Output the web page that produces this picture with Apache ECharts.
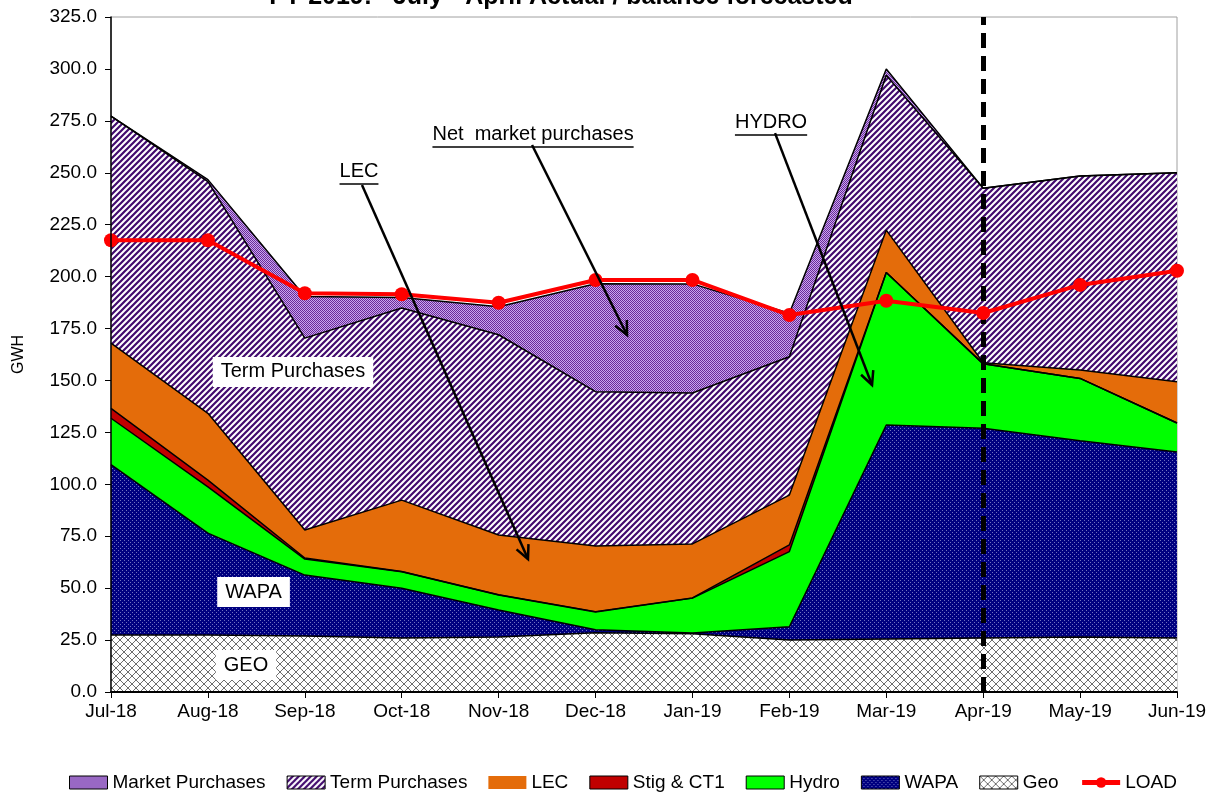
<!DOCTYPE html>
<html>
<head>
<meta charset="utf-8">
<script src="https://cdn.jsdelivr.net/npm/echarts@6/dist/echarts.min.js"></script>
<style>
  html, body { margin: 0; padding: 0; background: #fff; }
  #main { width: 1214px; height: 794px; }
</style>
</head>
<body>
<div id="main"></div>
<script>
// months on the x axis
var months = ['Jul-18', 'Aug-18', 'Sep-18', 'Oct-18', 'Nov-18', 'Dec-18',
  'Jan-19', 'Feb-19', 'Mar-19', 'Apr-19', 'May-19', 'Jun-19'];

// stacked resources, GWH (bottom to top)
var geo    = [27.5, 27.5, 27, 26, 26.5, 28.5, 28, 25, 25.5, 26, 26.5, 26];
var wapa   = [82, 49, 29.3, 24, 13, 1.5, 0.4, 6.4, 103, 101, 94.5, 89.5];
var hydro  = [22.3, 22.3, 7.7, 7.9, 7.2, 8.5, 16.8, 36.2, 73.5, 31, 30, 14];
var stig   = [4.8, 3.2, 0.5, 0.1, 0.1, 0.2, 0.1, 3.2, 0, 0, 0, 0];
var lec    = [31.4, 32.2, 13.5, 34.4, 28.8, 31.6, 26, 24, 20.4, 0.5, 4, 19.9];
var term   = [109.3, 111.5, 92.4, 92.5, 96.4, 74.3, 72.7, 66.6, 74.6, 84.1, 93.4, 100.6];
var market = [0, 1, 20, 5, 13.5, 52, 52.5, 21, 3, 0, 0, 0];

// load line
var load = [217.5, 217.5, 192, 191.5, 187.4, 198.4, 198.4, 181.5, 188.4, 182.5, 196, 202.8];

// annotations, placed in data space [category index, value]
var notes = [
  { text: 'Term Purchases', at: [1.878, 154.1], box: true },
  { text: 'WAPA', at: [1.471, 48.1], box: true },
  { text: 'GEO', at: [1.393, 13.0], box: true },
  { text: 'Net  market purchases', at: [4.355, 268.2], under: true },
  { text: 'LEC', at: [2.559, 250.4], under: true },
  { text: 'HYDRO', at: [6.811, 274.0], under: true }
];
var arrows = [
  { from: [2.590, 244.1], to: [4.303, 64.0] },
  { from: [4.345, 263.4], to: [5.325, 171.9] },
  { from: [6.852, 269.1], to: [7.853, 147.8] }
];

// fill patterns
function tile(size, draw) {
  var c = document.createElement('canvas');
  c.width = size; c.height = size;
  var ctx = c.getContext('2d');
  draw(ctx, size);
  return { image: c, repeat: 'repeat' };
}

var termPat = tile(6, function (ctx, s) {
  ctx.fillStyle = '#fff'; ctx.fillRect(0, 0, s, s);
  ctx.strokeStyle = '#420a6e'; ctx.lineWidth = 2.2;
  ctx.beginPath();
  ctx.moveTo(0, s); ctx.lineTo(s, 0);
  ctx.moveTo(-s / 2, s / 2); ctx.lineTo(s / 2, -s / 2);
  ctx.moveTo(s / 2, s * 1.5); ctx.lineTo(s * 1.5, s / 2);
  ctx.stroke();
});

var marketPat = tile(2, function (ctx) {
  ctx.fillStyle = '#c9a6ee'; ctx.fillRect(0, 0, 2, 2);
  ctx.fillStyle = '#6a2a9a'; ctx.fillRect(0, 0, 1, 1); ctx.fillRect(1, 1, 1, 1);
});

var wapaPat = tile(4, function (ctx) {
  ctx.fillStyle = '#000080'; ctx.fillRect(0, 0, 4, 4);
  ctx.fillStyle = '#7070c0'; ctx.fillRect(0, 0, 1, 1); ctx.fillRect(2, 2, 1, 1);
});

var geoPat = tile(8, function (ctx, s) {
  ctx.fillStyle = '#fff'; ctx.fillRect(0, 0, s, s);
  ctx.strokeStyle = '#6e6e6e'; ctx.lineWidth = 1;
  ctx.beginPath();
  ctx.moveTo(0, s); ctx.lineTo(s, 0);
  ctx.moveTo(-s / 2, s / 2); ctx.lineTo(s / 2, -s / 2);
  ctx.moveTo(s / 2, s * 1.5); ctx.lineTo(s * 1.5, s / 2);
  ctx.moveTo(0, 0); ctx.lineTo(s, s);
  ctx.moveTo(-s / 2, s / 2); ctx.lineTo(s / 2, s * 1.5);
  ctx.moveTo(s / 2, -s / 2); ctx.lineTo(s * 1.5, s / 2);
  ctx.stroke();
});

var LEC_C = '#e46c0a', STIG_C = '#c00000', HYDRO_C = '#00ff00';

function areaSeries(name, data, fill) {
  return {
    name: name,
    type: 'line',
    stack: 'supply',
    data: data,
    showSymbol: false,
    symbol: 'none',
    lineStyle: { color: '#000', width: 1.5 },
    itemStyle: { color: fill },
    areaStyle: { color: fill, opacity: 1 },
    emphasis: { disabled: true }
  };
}

var font = 'Liberation Sans, Arial, sans-serif';
var chart = echarts.init(document.getElementById('main'));

var option = {
  animation: false,
  textStyle: { fontFamily: font },
  title: {
    text: 'FY 2019:   July - April Actual / balance forecasted',
    left: 556,
    textAlign: 'center',
    top: -20,
    textStyle: { fontSize: 25, fontWeight: 'bold', color: '#000', fontFamily: font }
  },
  grid: {
    left: 111, right: 37, top: 17, bottom: 102,
    show: true, borderColor: '#a0a0a0', borderWidth: 1
  },
  legend: {
    top: 768,
    left: 64,
    itemWidth: 38,
    itemHeight: 13,
    itemGap: 21,
    selectedMode: false,
    textStyle: { fontSize: 19, color: '#000', fontFamily: font },
    data: [
      { name: 'Market Purchases', icon: 'rect', itemStyle: { color: marketPat, borderColor: '#000', borderWidth: 1 } },
      { name: 'Term Purchases', icon: 'rect', itemStyle: { color: termPat, borderColor: '#000', borderWidth: 1 } },
      { name: 'LEC', icon: 'rect', itemStyle: { color: LEC_C, borderWidth: 0 } },
      { name: 'Stig & CT1', icon: 'rect', itemStyle: { color: STIG_C, borderColor: '#000', borderWidth: 1 } },
      { name: 'Hydro', icon: 'rect', itemStyle: { color: HYDRO_C, borderColor: '#000', borderWidth: 1 } },
      { name: 'WAPA', icon: 'rect', itemStyle: { color: wapaPat, borderColor: '#000', borderWidth: 1 } },
      { name: 'Geo', icon: 'rect', itemStyle: { color: geoPat, borderColor: '#000', borderWidth: 1 } },
      { name: 'LOAD', lineStyle: { width: 5, color: '#ff0000' } }
    ]
  },
  xAxis: {
    type: 'category',
    data: months,
    boundaryGap: false,
    axisLine: { lineStyle: { color: '#000', width: 2 } },
    axisTick: { show: true, length: 6, lineStyle: { color: '#000' } },
    axisLabel: { color: '#000', fontSize: 19, margin: 10, interval: 0 },
    splitLine: { show: false },
    z: 10
  },
  yAxis: {
    type: 'value',
    min: 0, max: 325, interval: 25,
    name: 'GWH',
    nameLocation: 'middle',
    nameGap: 84,
    nameTextStyle: { color: '#000', fontSize: 16 },
    axisLine: { show: true, lineStyle: { color: '#000', width: 1.5 } },
    axisTick: { show: true, length: 6, lineStyle: { color: '#000' } },
    axisLabel: { color: '#000', fontSize: 19, margin: 14, formatter: function (v) { return v.toFixed(1); } },
    splitLine: { show: false },
    z: 10
  },
  series: [
    areaSeries('Geo', geo, geoPat),
    areaSeries('WAPA', wapa, wapaPat),
    areaSeries('Hydro', hydro, HYDRO_C),
    areaSeries('Stig & CT1', stig, STIG_C),
    areaSeries('LEC', lec, LEC_C),
    areaSeries('Term Purchases', term, termPat),
    areaSeries('Market Purchases', market, marketPat),
    {
      name: 'LOAD',
      type: 'line',
      data: load,
      symbol: 'circle',
      symbolSize: 14,
      z: 6,
      lineStyle: { color: '#ff0000', width: 4 },
      itemStyle: { color: '#ff0000' },
      emphasis: { disabled: true },
      markLine: {
        silent: true,
        symbol: 'none',
        z: 5,
        label: { show: false },
        lineStyle: { color: '#000', width: 5, type: [15, 8] },
        data: [{ xAxis: 'Apr-19' }]
      }
    }
  ]
};
chart.setOption(option);

// data point -> pixel, allowing a fractional category index
function toPx(pt) {
  var i = Math.floor(pt[0]), f = pt[0] - i;
  var a = chart.convertToPixel({ gridIndex: 0 }, [i, pt[1]]);
  var b = chart.convertToPixel({ gridIndex: 0 }, [i + 1, pt[1]]);
  return [a[0] + f * (b[0] - a[0]), a[1]];
}

// annotation graphics
var measure = document.createElement('canvas').getContext('2d');
measure.font = '20px ' + font;
var elems = [];
notes.forEach(function (n) {
  var p = toPx(n.at);
  var el = {
    type: 'text',
    x: p[0], y: p[1],
    z: 20,
    style: {
      text: n.text,
      font: '20px ' + font,
      fill: '#000',
      align: 'center',
      verticalAlign: 'middle'
    }
  };
  if (n.box) {
    el.style.backgroundColor = '#fff';
    el.style.padding = [5, 8];
  }
  elems.push(el);
  if (n.under) {
    var w = measure.measureText(n.text).width;
    elems.push({
      type: 'line', z: 20,
      shape: { x1: p[0] - w / 2, y1: p[1] + 12, x2: p[0] + w / 2, y2: p[1] + 12 },
      style: { stroke: '#000', lineWidth: 1.5 }
    });
  }
});
arrows.forEach(function (a) {
  var s = toPx(a.from);
  var e = toPx(a.to);
  var ang = Math.atan2(e[1] - s[1], e[0] - s[0]);
  var h = 15, spread = 0.45;
  elems.push({
    type: 'line', z: 20,
    shape: { x1: s[0], y1: s[1], x2: e[0], y2: e[1] },
    style: { stroke: '#000', lineWidth: 2.5 }
  });
  elems.push({
    type: 'polyline', z: 20,
    shape: { points: [
      [e[0] - h * Math.cos(ang - spread), e[1] - h * Math.sin(ang - spread)],
      [e[0], e[1]],
      [e[0] - h * Math.cos(ang + spread), e[1] - h * Math.sin(ang + spread)]
    ] },
    style: { stroke: '#000', lineWidth: 2.5, fill: null }
  });
});
chart.setOption({ graphic: elems });
</script>
</body>
</html>
